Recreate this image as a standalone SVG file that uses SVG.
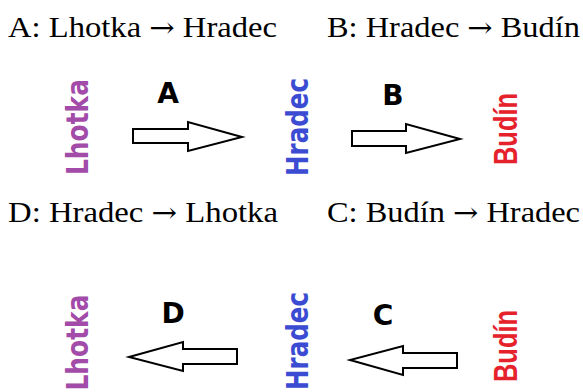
<svg xmlns="http://www.w3.org/2000/svg" width="583" height="392" viewBox="0 0 583 392">
  <style>
    .caption { font-family: "Liberation Serif", "Times New Roman", serif; font-size: 29px; fill: #000; }
    .to { font-family: "DejaVu Serif", serif; font-size: 27px; }
    .town { font-family: "Comic Sans MS", "DejaVu Sans", sans-serif; font-weight: bold; font-size: 31px; text-anchor: middle; }
    .budin { font-family: "Liberation Sans", Arial, sans-serif; font-weight: bold; font-size: 33px; text-anchor: middle; fill: #e5222c; }
    .lhotka { fill: #a24ba8; }
    .hradec { fill: #3b4cd3; }
    .tag { font-family: "Comic Sans MS", "DejaVu Sans", sans-serif; font-weight: bold; font-size: 28px; text-anchor: middle; fill: #000; }
    .arrow { fill: #fff; stroke: #000; stroke-width: 2; stroke-linejoin: miter; }
  </style>
  <rect width="583" height="392" fill="#fff"/>

  <!-- captions -->
  <text class="caption" x="8" y="37" textLength="269" lengthAdjust="spacingAndGlyphs">A: Lhotka <tspan class="to">→</tspan> Hradec</text>
  <text class="caption" x="327" y="37" textLength="253" lengthAdjust="spacingAndGlyphs">B: Hradec <tspan class="to">→</tspan> Budín</text>
  <text class="caption" x="8" y="222" textLength="270" lengthAdjust="spacingAndGlyphs">D: Hradec <tspan class="to">→</tspan> Lhotka</text>
  <text class="caption" x="327" y="222" textLength="253" lengthAdjust="spacingAndGlyphs">C: Budín <tspan class="to">→</tspan> Hradec</text>

  <!-- upper row -->
  <g id="lhotka-1">
    <text class="town lhotka" transform="translate(88,127) rotate(-90)" textLength="96" lengthAdjust="spacingAndGlyphs">Lhotka</text>
  </g>
  <g id="hradec-1">
    <text class="town hradec" transform="translate(308,127) rotate(-90)" textLength="98" lengthAdjust="spacingAndGlyphs">Hradec</text>
  </g>
  <g id="budin-1">
    <text class="budin" transform="translate(517,129) rotate(-90)" textLength="72" lengthAdjust="spacingAndGlyphs">Budín</text>
  </g>

  <!-- lower row -->
  <g id="lhotka-2">
    <text class="town lhotka" transform="translate(88,342.5) rotate(-90)" textLength="96" lengthAdjust="spacingAndGlyphs">Lhotka</text>
  </g>
  <g id="hradec-2">
    <text class="town hradec" transform="translate(308,341) rotate(-90)" textLength="98" lengthAdjust="spacingAndGlyphs">Hradec</text>
  </g>
  <g id="budin-2">
    <text class="budin" transform="translate(517,346) rotate(-90)" textLength="72" lengthAdjust="spacingAndGlyphs">Budín</text>
  </g>

  <!-- connectors -->
  <g id="connectors">
    <g id="edge-A">
      <path class="arrow" d="M133,129 H188 V122 L242,137 L188,151 V143 H133 Z"/>
      <text class="tag" x="168" y="103">A</text>
    </g>
    <g id="edge-B">
      <path class="arrow" d="M352,131 H406 V124 L460,139 L406,153 V146 H352 Z"/>
      <text class="tag" x="393" y="105">B</text>
    </g>
    <g id="edge-D">
      <path class="arrow" d="M237,349 H183 V342 L129,357 L183,371 V364 H237 Z"/>
      <text class="tag" x="173" y="323">D</text>
    </g>
    <g id="edge-C">
      <path class="arrow" d="M457,353 H403 V346 L350,360 L403,375 V368 H457 Z"/>
      <text class="tag" x="383" y="325">C</text>
    </g>
  </g>
</svg>
